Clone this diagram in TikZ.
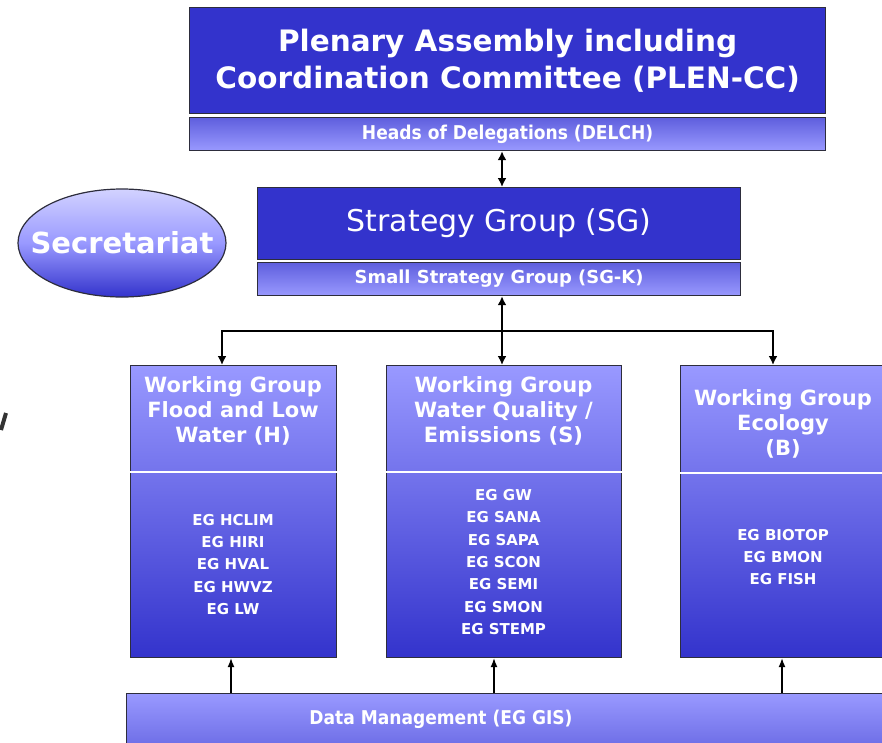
\documentclass[tikz,border=0pt]{standalone}
\usepackage{fontspec}
\setmainfont{DejaVu Sans}
\newfontfamily\condfont{DejaVu Sans Condensed}
\usetikzlibrary{shapes.geometric,arrows.meta,calc}
\definecolor{dkblue}{RGB}{51,51,204}
\definecolor{ltblue}{RGB}{153,153,255}
\definecolor{midblue}{RGB}{95,95,222}
\definecolor{paleblue}{RGB}{210,210,255}
\definecolor{edgecol}{RGB}{45,45,60}
\begin{document}
\begin{tikzpicture}[x=1pt,y=-1pt,
  box/.style={draw=edgecol, line width=1.2pt, inner sep=0pt, anchor=north west, text=white, align=center},
  barshade/.style={top color=midblue, bottom color=ltblue},
  wgshade/.style={top color=ltblue, bottom color=dkblue},
  wgtitle/.style={text=white, align=center, inner sep=0pt, font=\fontsize{21}{25}\selectfont\bfseries},
  eglist/.style={text=white, align=center, inner sep=0pt, font=\fontsize{15}{22.3}\selectfont\bfseries},
  bigarrow/.style={line width=2.2pt, {Latex[length=9pt,width=9pt]}-{Latex[length=9pt,width=9pt]}},
  downarrow/.style={line width=2.2pt, -{Latex[length=9pt,width=9pt]}},
  uparrow/.style={line width=1.2pt, -{Latex[length=9pt,width=7pt]}},
  divider/.style={white, line width=1.5pt}]
\path[use as bounding box] (0,0) rectangle (882,742);
\clip (0,0) rectangle (882,742);

% top block
\node[box, fill=dkblue, minimum width=636, minimum height=106,
      font=\fontsize{29.5}{37}\selectfont\bfseries] (plen) at (189,7)
      {Plenary Assembly including\\Coordination Committee (PLEN-CC)};
\node[box, barshade, minimum width=636, minimum height=33,
      font=\fontsize{19}{22}\selectfont\condfont\bfseries] (delch) at (189,117)
      {Heads of Delegations (DELCH)};

% strategy group
\node[box, fill=dkblue, minimum width=483, minimum height=72,
      font=\fontsize{30}{36}\selectfont] (sg) at (257,187) {Strategy Group (SG)};
\node[box, barshade, minimum width=483, minimum height=33,
      font=\fontsize{17.9}{21}\selectfont\bfseries] (sgk) at (257,262)
      {Small Strategy Group (SG-K)};

% secretariat
\node[ellipse, draw=edgecol, line width=1.2pt, minimum width=208, minimum height=108,
      top color=paleblue, bottom color=dkblue, middle color=ltblue, inner sep=0pt] (sec) at (122,243) {};
\node[text=white, inner sep=0pt, font=\fontsize{29}{34}\selectfont\bfseries] (sectext) at (sec.center) {Secretariat};

% working groups
\node[box, wgshade, minimum width=206, minimum height=292] (wgh) at (130,365) {};
\node[box, wgshade, minimum width=235, minimum height=292] (wgs) at (386,365) {};
\node[box, wgshade, minimum width=206, minimum height=292] (wgb) at (680,365) {};

\draw[divider] (wgh.west |- 0,472) -- (wgh.east |- 0,472);
\draw[divider] (wgs.west |- 0,472) -- (wgs.east |- 0,472);
\draw[divider] (wgb.west |- 0,473) -- (wgb.east |- 0,473);

\node[wgtitle] (wghtitle) at (233,411) {Working Group\\Flood and Low\\Water (H)};
\node[wgtitle] (wgstitle) at (503.5,411) {Working Group\\Water Quality /\\Emissions (S)};
\node[wgtitle] (wgbtitle) at (783,424) {Working Group\\Ecology\\(B)};

\node[eglist] (wghlist) at (233,564.5) {EG HCLIM\\EG HIRI\\EG HVAL\\EG HWVZ\\EG LW};
\node[eglist] (wgslist) at (503.5,562) {EG GW\\EG SANA\\EG SAPA\\EG SCON\\EG SEMI\\EG SMON\\EG STEMP};
\node[eglist] (wgblist) at (783,557) {EG BIOTOP\\EG BMON\\EG FISH};

% data management
\node[box, top color=ltblue, bottom color=midblue, minimum width=780, minimum height=70] (dm) at (126,693) {};
\node[text=white, inner sep=0pt, font=\fontsize{19}{22}\selectfont\condfont\bfseries] (dmtext) at (441,719) {Data Management (EG GIS)};

% connectors
\coordinate (ax) at (502,0);
\coordinate (hx) at (222,0);
\coordinate (bx) at (773,0);
\coordinate (jn) at (502,331);
\draw[bigarrow] (delch.south -| ax) -- (sg.north -| ax);
\draw[bigarrow] (sgk.south -| ax) -- (wgs.north -| ax);
\draw[downarrow] (jn) -| (wgh.north -| hx);
\draw[downarrow] (jn) -| (wgb.north -| bx);

\coordinate (u1) at (231,0);
\coordinate (u2) at (494,0);
\coordinate (u3) at (782,0);
\draw[uparrow] (dm.north -| u1) -- (wgh.south -| u1);
\draw[uparrow] (dm.north -| u2) -- (wgs.south -| u2);
\draw[uparrow] (dm.north -| u3) -- (wgb.south -| u3);

% stray mark at the left edge
\draw[black!80, line width=4pt] (6,413) -- (1,430);
\end{tikzpicture}
\end{document}
